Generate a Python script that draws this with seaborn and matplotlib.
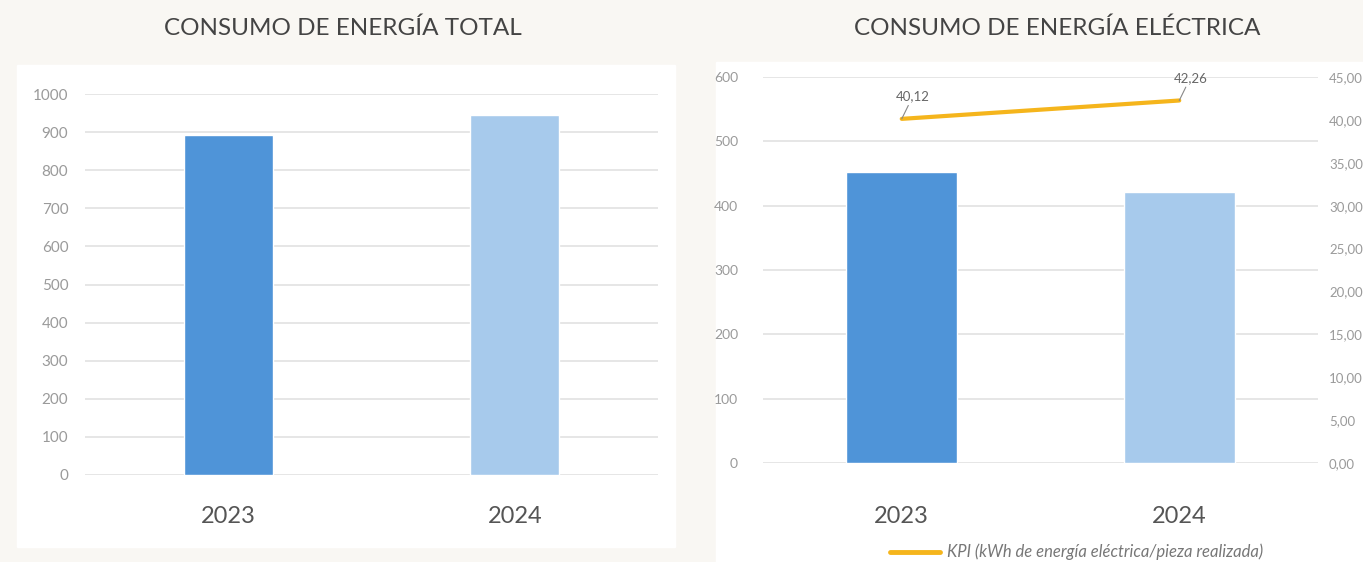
import numpy as np
import matplotlib
matplotlib.use("Agg")
import matplotlib.pyplot as plt
from matplotlib.patches import Rectangle
from matplotlib.ticker import FuncFormatter, MultipleLocator
import seaborn as sns

sns.set_theme(style="white")
plt.rcParams['font.family'] = ['Lato', 'DejaVu Sans']

# %% Data
years = ['2023', '2024']
total_energy = [892, 945]
electric_energy = [452, 422]
kpi = [40.12, 42.26]
kpi_labels = ['40,12', '42,26']
bar_colors = ['#4f94d8', '#a7caec']
line_color = '#f5b51c'
title_left = 'CONSUMO DE ENERGÍA TOTAL'
title_right = 'CONSUMO DE ENERGÍA ELÉCTRICA'
legend_label = 'KPI (kWh de energía eléctrica/pieza realizada)'

W, H = 1363, 562
fig = plt.figure(figsize=(W / 100, H / 100), dpi=100, facecolor='#f9f7f3')

# white panels behind each chart
fig.add_artist(Rectangle((17 / W, 1 - 547 / H), (675 - 17) / W, (547 - 65) / H,
                         transform=fig.transFigure, color='white', zorder=0))
fig.add_artist(Rectangle((716 / W, 0), (W - 716) / W, (H - 62) / H,
                         transform=fig.transFigure, color='white', zorder=0))

tick_col = '#9a9a9a'
grid_col = '#e2e2e2'


def style_axis(ax, pad_x, pad_y):
    for s in ax.spines.values():
        s.set_visible(False)
    ax.set_facecolor('none')
    ax.yaxis.grid(True, color=grid_col, linewidth=1.2)
    ax.set_axisbelow(True)
    ax.tick_params(axis='y', length=0, labelsize=11, labelcolor=tick_col, pad=pad_y)
    ax.tick_params(axis='x', length=0, labelsize=17, labelcolor='#555555', pad=pad_x)
    ax.set_xlabel('')
    ax.set_ylabel('')
    ax.set_xlim(-0.5, 1.5)


# %% Left chart
ax1 = fig.add_axes([85 / W, 1 - 475 / H, 573 / W, 381 / H])
sns.barplot(x=years, y=total_energy, hue=years, palette=bar_colors, legend=False,
            width=0.31, ax=ax1, saturation=1)
ax1.set_ylim(0, 1000)
ax1.yaxis.set_major_locator(MultipleLocator(100))
style_axis(ax1, 22, 12)
fig.text(343 / W, 1 - 28 / H, title_left, ha='center', va='center',
         fontsize=17.5, color='#444444')

# %% Right chart
ax2 = fig.add_axes([763 / W, 1 - 463 / H, 555 / W, 386 / H])
sns.barplot(x=years, y=electric_energy, hue=years, palette=bar_colors, legend=False,
            width=0.4, ax=ax2, saturation=1)
ax2.set_ylim(0, 600)
ax2.yaxis.set_major_locator(MultipleLocator(100))
style_axis(ax2, 31, 18)
ax2.tick_params(axis='y', labelsize=10)

ax3 = ax2.twinx()
xs = np.arange(len(years))
sns.lineplot(x=xs, y=kpi, color=line_color, linewidth=3, ax=ax3)
ax3.set_ylim(0, 45)
ax3.yaxis.set_major_locator(MultipleLocator(5))
ax3.yaxis.set_major_formatter(FuncFormatter(lambda v, p: f'{v:.2f}'.replace('.', ',')))
for s in ax3.spines.values():
    s.set_visible(False)
ax3.tick_params(axis='y', length=0, labelsize=9.5, labelcolor=tick_col, pad=8)
ax3.grid(False)
ax3.set_ylabel('')
ax3.set_xlim(-0.5, 1.5)

for x, y, lab in zip(xs, kpi, kpi_labels):
    ax3.annotate(lab, xy=(x, y), xytext=(8, 12), textcoords='offset points',
                 ha='center', va='bottom', fontsize=9.5, color='#666666',
                 arrowprops=dict(arrowstyle='-', color='#888888', lw=0.8,
                                 shrinkA=0, shrinkB=0))

fig.text(1057 / W, 1 - 28 / H, title_right, ha='center', va='center',
         fontsize=17.5, color='#444444')

# legend
fig.add_artist(plt.Line2D([890 / W, 940 / W], [1 - 552 / H, 1 - 552 / H],
                          transform=fig.transFigure, color=line_color, linewidth=3.5))
fig.text(947 / W, 1 - 552 / H, legend_label, ha='left', va='center',
         fontsize=12, style='italic', color='#777777')

fig.savefig('out.png', dpi=100, facecolor=fig.get_facecolor())
